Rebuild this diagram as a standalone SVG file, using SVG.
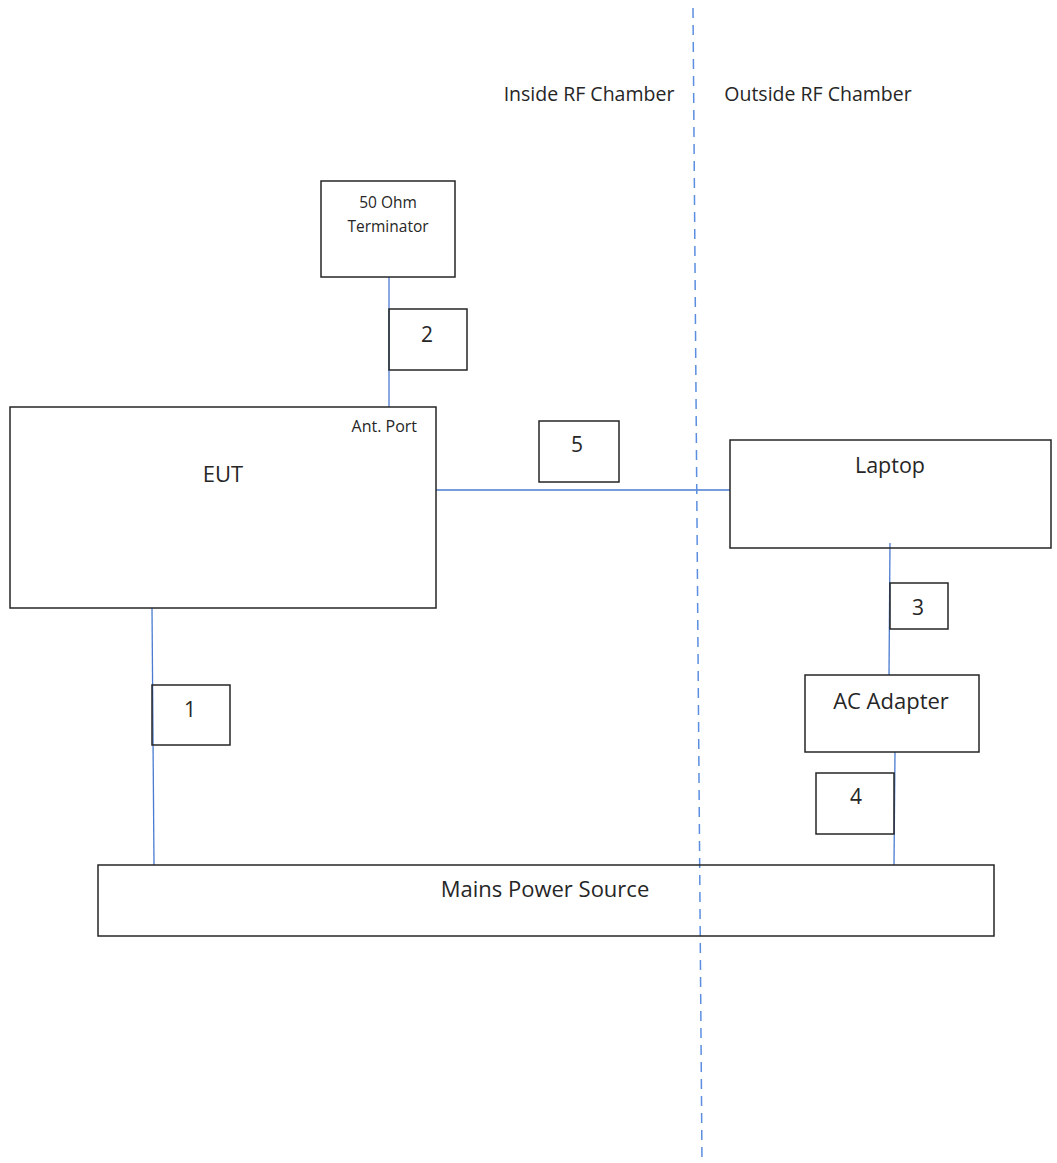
<svg xmlns="http://www.w3.org/2000/svg" width="1057" height="1163" viewBox="0 0 1057 1163">
<style>
.box{fill:none;stroke:#262626;stroke-width:1.5}
.t{font-family:"Open Sans","Noto Sans",sans-serif;fill:#262626;text-anchor:middle}
.c{stroke:#4a7bd0;stroke-width:1.3;fill:none}
.d{stroke:#5b8ee0;stroke-width:1.5;stroke-dasharray:10 7;fill:none}
</style>
<rect width="1057" height="1163" fill="#fff"/>
<g id="connectors">
<line class="c" x1="389" y1="277" x2="389" y2="407"/>
<line class="c" x1="436" y1="490" x2="730" y2="490"/>
<line class="c" x1="890" y1="543" x2="889" y2="675"/>
<line class="c" x1="895" y1="752" x2="894" y2="865"/>
<line class="c" x1="152" y1="608" x2="154" y2="865"/>
</g>
<g id="boundary">
<line class="d" x1="693" y1="8" x2="702" y2="1163"/>
<text class="t" x="589" y="101" font-size="19.5">Inside RF Chamber</text>
<text class="t" x="818" y="101" font-size="19.5">Outside RF Chamber</text>
</g>
<g id="terminator">
<rect class="box" x="321" y="181" width="134" height="96"/>
<text class="t" x="388" y="208" font-size="15.5">50 Ohm</text>
<text class="t" x="388" y="232" font-size="15.5">Terminator</text>
</g>
<g id="label2">
<rect class="box" x="389" y="309" width="78" height="61"/>
<text class="t" x="427" y="342" font-size="21">2</text>
</g>
<g id="eut">
<rect class="box" x="10" y="407" width="426" height="201"/>
<text class="t" x="223" y="482" font-size="22">EUT</text>
<text class="t" x="417" y="432" font-size="16" text-anchor="end" style="text-anchor:end">Ant. Port</text>
</g>
<g id="label5">
<rect class="box" x="539" y="421" width="80" height="61"/>
<text class="t" x="577" y="452" font-size="21">5</text>
</g>
<g id="laptop">
<rect class="box" x="730" y="440" width="321" height="108"/>
<text class="t" x="890" y="473" font-size="21.5">Laptop</text>
</g>
<g id="label3">
<rect class="box" x="890" y="583" width="58" height="46"/>
<text class="t" x="918" y="615" font-size="21">3</text>
</g>
<g id="acadapter">
<rect class="box" x="805" y="675" width="174" height="77"/>
<text class="t" x="891" y="709" font-size="22">AC Adapter</text>
</g>
<g id="label4">
<rect class="box" x="816" y="773" width="78" height="61"/>
<text class="t" x="856" y="804" font-size="21">4</text>
</g>
<g id="label1">
<rect class="box" x="152" y="685" width="78" height="60"/>
<text class="t" x="190" y="717" font-size="21">1</text>
</g>
<g id="mains">
<rect class="box" x="98" y="865" width="896" height="71"/>
<text class="t" x="545" y="897" font-size="22">Mains Power Source</text>
</g>
</svg>
